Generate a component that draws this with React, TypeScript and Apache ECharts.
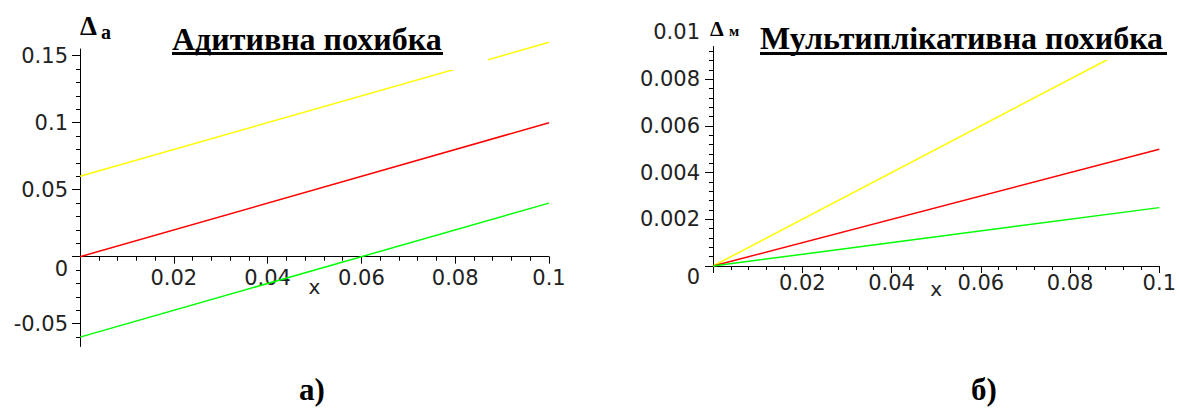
import React, { useEffect, useRef } from "react";
import * as echarts from "echarts";

// ---- data ----
const xTickValues = [0, 0.02, 0.04, 0.06, 0.08, 0.1];
const leftYTickValues = [-0.05, 0, 0.05, 0.1, 0.15];
const rightYTickValues = [0, 0.002, 0.004, 0.006, 0.008];
const rightTopLabelValue = 0.01;

const leftYRange = [-0.067, 0.155];
const rightYRange = [0, 0.0094];

// additive error (a)
const addYellow = [[0, 0.06], [0.1, 0.16]];
const addRed = [[0, 0], [0.1, 0.1]];
const addGreen = [[0, -0.06], [0.1, 0.04]];
// multiplicative error (b)
const mulYellow = [[0, 0], [0.1, 0.01]];
const mulRed = [[0, 0], [0.1, 0.005]];
const mulGreen = [[0, 0], [0.1, 0.0025]];

const titleLeft = "Адитивна похибка";
const titleRight = "Мультиплікативна похибка";

const YELLOW = "#ffff00";
const RED = "#ff0000";
const GREEN = "#00ff00";

const SANS = "'DejaVu Sans', sans-serif";
const SERIF = "'Liberation Serif', 'Times New Roman', serif";
const LABEL_COLOR = "#222";

const GRID_L = { left: 80, top: 49, width: 469, height: 297.5 };
const GRID_R = { left: 713, top: 46.5, width: 450, height: 219.5 };

function minorTicks(major: number[], step: number, lo: number, hi: number): number[] {
  const out: number[] = [];
  const n0 = Math.ceil(lo / step - 1e-9);
  const n1 = Math.floor(hi / step + 1e-9);
  for (let k = n0; k <= n1; k++) {
    const v = +(k * step).toFixed(6);
    if (!major.some((m) => Math.abs(m - v) < step / 10)) out.push(v);
  }
  return out;
}

const leftYMinor = minorTicks(leftYTickValues, 0.01, leftYRange[0], leftYRange[1]);
const rightYMinor = minorTicks(rightYTickValues, 0.0004, rightYRange[0], rightYRange[1]);

// distance (px) from the grid bottom up to y = 0, so the x axis crosses at zero
function zeroLift(range: number[], height: number) {
  return (height * (0 - range[0])) / (range[1] - range[0]);
}

function mkX(gridIndex: number, lift: number, margin: number, nameGap: number) {
  return {
    type: "value",
    gridIndex,
    min: xTickValues[0],
    max: xTickValues[xTickValues.length - 1],
    interval: 0.02,
    position: "bottom",
    offset: -lift,
    axisLine: { show: true, onZero: false, lineStyle: { color: "#000", width: 1 } },
    axisTick: { show: true, length: 7, lineStyle: { color: "#000" } },
    minorTick: { show: true, splitNumber: 5, length: 4, lineStyle: { color: "#000" } },
    splitLine: { show: false },
    minorSplitLine: { show: false },
    axisLabel: {
      margin,
      fontFamily: SANS,
      fontSize: 21,
      color: LABEL_COLOR,
      formatter: (v: number) => (v === 0 ? "" : String(+v.toFixed(4))),
    },
    name: "x",
    nameLocation: "middle",
    nameGap,
    nameMoveOverlap: false,
    nameTextStyle: { fontFamily: SANS, fontSize: 20, color: LABEL_COLOR },
  };
}

function mkYMain(gridIndex: number, range: number[], ticks: number[], margin: number, zeroPad: number) {
  return {
    type: "value",
    gridIndex,
    min: range[0],
    max: range[1],
    position: "left",
    axisLine: { show: true, onZero: false, lineStyle: { color: "#000", width: 1 } },
    axisTick: { show: true, length: 8, customValues: ticks, lineStyle: { color: "#000" } },
    minorTick: { show: false },
    splitLine: { show: false },
    axisLabel: {
      show: true,
      customValues: ticks,
      margin,
      fontFamily: SANS,
      fontSize: 21,
      color: LABEL_COLOR,
      formatter: (v: number) => (v === 0 ? "{z|0}" : String(+v.toFixed(4))),
      rich: { z: { padding: [zeroPad, 0, 0, 0], fontFamily: SANS, fontSize: 21, color: LABEL_COLOR } },
    },
  };
}

function mkYMinor(gridIndex: number, range: number[], ticks: number[]) {
  return {
    type: "value",
    gridIndex,
    min: range[0],
    max: range[1],
    position: "left",
    axisLine: { show: false, onZero: false },
    axisTick: { show: true, length: 4, customValues: ticks, lineStyle: { color: "#000" } },
    axisLabel: { show: false },
    splitLine: { show: false },
    minorTick: { show: false },
  };
}

function line(data: number[][], color: string, xi: number, yi: number) {
  return {
    type: "line",
    data,
    xAxisIndex: xi,
    yAxisIndex: yi,
    symbol: "none",
    showSymbol: false,
    clip: false,
    silent: true,
    z: 2,
    lineStyle: { color, width: 1.5 },
    itemStyle: { color },
  };
}

export default function App() {
  const ref = useRef<HTMLDivElement>(null);

  useEffect(() => {
    if (!ref.current) return;
    const chart = echarts.init(ref.current, undefined, { renderer: "svg" });
    chart.setOption({
      animation: false,
      backgroundColor: "#ffffff",
      grid: [GRID_L, GRID_R],
      xAxis: [
        mkX(0, zeroLift(leftYRange, GRID_L.height), 11, 20),
        mkX(1, zeroLift(rightYRange, GRID_R.height), 6, 13),
      ],
      yAxis: [
        mkYMain(0, leftYRange, leftYTickValues, 12, 25),
        mkYMinor(0, leftYRange, leftYMinor),
        mkYMain(1, rightYRange, rightYTickValues, 13, 22),
        mkYMinor(1, rightYRange, rightYMinor),
      ],
      series: [
        line(addYellow, YELLOW, 0, 0),
        line(addRed, RED, 0, 0),
        line(addGreen, GREEN, 0, 0),
        line(mulYellow, YELLOW, 1, 2),
        line(mulRed, RED, 1, 2),
        line(mulGreen, GREEN, 1, 2),
      ],
    });

    const topY = chart.convertToPixel({ yAxisIndex: 2 }, rightTopLabelValue) as number;

    const txt = (text: string, x: number, y: number, size: number, family: string, weight: string, align = "left") => ({
      type: "text",
      x,
      y,
      z: 101,
      style: {
        text,
        fontSize: size,
        fontFamily: family,
        fontWeight: weight,
        fill: "#000",
        align,
        verticalAlign: "middle",
      },
    });

    chart.setOption({
      graphic: [
        // white text boxes of the original layout that hide the lines under them
        { type: "rect", z: 100, shape: { x: 150, y: 0, width: 338, height: 70 }, style: { fill: "#fff" } },
        { type: "rect", z: 100, shape: { x: 750, y: 0, width: 429, height: 60 }, style: { fill: "#fff" } },
        txt(titleLeft, 172, 39, 32, SERIF, "bold"),
        { type: "rect", z: 101, shape: { x: 172, y: 52, width: 271, height: 3 }, style: { fill: "#000" } },
        txt(titleRight, 760, 38, 32, SERIF, "bold"),
        { type: "rect", z: 101, shape: { x: 760, y: 52, width: 407, height: 3 }, style: { fill: "#000" } },
        txt("Δ", 80, 26, 27, SERIF, "bold"),
        txt("а", 101, 32, 20, SERIF, "bold"),
        txt("Δ", 710, 28, 22, SERIF, "bold"),
        txt("м", 729, 31, 15, SERIF, "bold"),
        {
          type: "text",
          x: 700,
          y: topY,
          z: 101,
          style: { text: String(rightTopLabelValue), fontSize: 21, fontFamily: SANS, fill: LABEL_COLOR, align: "right", verticalAlign: "middle" },
        },
        txt("а)", 312, 389, 31, SERIF, "bold", "center"),
        txt("б)", 984, 389, 31, SERIF, "bold", "center"),
      ],
    });

    return () => chart.dispose();
  }, []);

  return <div ref={ref} style={{ position: "absolute", left: 0, top: 0, width: 1179, height: 418 }} />;
}
